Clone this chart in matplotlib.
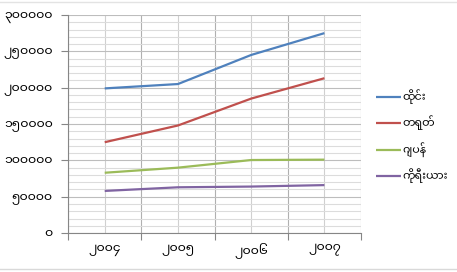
import numpy as np
import matplotlib
matplotlib.use('Agg')
import matplotlib.pyplot as plt
from matplotlib.ticker import MultipleLocator, FixedLocator, FuncFormatter

# data (visitor arrivals by year)
years = ['၂၀၀၄', '၂၀၀၅', '၂၀၀၆', '၂၀၀၇']
thailand = [199000, 205000, 245000, 275000]
china = [125000, 148000, 185000, 213000]
japan = [83000, 90000, 100500, 101000]
korea = [58000, 63000, 64000, 66000]
series_names = ['ထိုင်း', 'တရုတ်', 'ဂျပန်', 'ကိုရီးယား']
colors = ['#4F81BD', '#C0504D', '#9BBB59', '#8064A2']

MM_DIGITS = str.maketrans('0123456789', '၀၁၂၃၄၅၆၇၈၉')

plt.rcParams['font.family'] = ['Noto Sans Myanmar UI', 'Myanmar Sans Pro', 'DejaVu Sans']
plt.rcParams['font.size'] = 9

fig = plt.figure(figsize=(4.57, 2.72), dpi=100)
ax = fig.add_axes([0.149, 0.143, 0.641, 0.802])

x = np.arange(len(years))
for vals, name, c in zip([thailand, china, japan, korea], series_names, colors):
    ax.plot(x, vals, color=c, lw=1.6, label=name, solid_capstyle='butt')

# y axis
ax.set_ylim(0, 300000)
ax.yaxis.set_major_locator(MultipleLocator(50000))
ax.yaxis.set_minor_locator(MultipleLocator(10000))
ax.yaxis.set_major_formatter(FuncFormatter(lambda v, p: str(int(v)).translate(MM_DIGITS)))
ax.grid(which='major', axis='y', color='#bdbdbd', lw=0.8)
ax.grid(which='minor', axis='y', color='#dcdcdc', lw=0.8)

# x axis: category boundaries as major ticks, labels at centres
ax.set_xlim(-0.5, len(years) - 0.5)
ax.xaxis.set_major_locator(FixedLocator(np.arange(-0.5, len(years), 1.0)))
ax.xaxis.set_major_formatter(FuncFormatter(lambda v, p: ''))
ax.set_xticks(x, minor=True)
ax.set_xticklabels(years, minor=True)
ax.grid(which='major', axis='x', color='#b0b0b0', lw=0.8)
ax.grid(which='minor', axis='x', color='#d0d0d0', lw=0.8)
ax.set_axisbelow(True)

ax.tick_params(axis='x', which='major', length=5, color='#868686', direction='out')
ax.tick_params(axis='x', which='minor', length=0, pad=7, labelsize=9)
ax.tick_params(axis='y', which='major', length=5, color='#868686', pad=6)
ax.tick_params(axis='y', which='minor', length=0)

for side in ['top', 'right']:
    ax.spines[side].set_visible(False)
ax.spines['left'].set_color('#868686')
ax.spines['bottom'].set_color('#868686')

fig.legend(loc='upper left', bbox_to_anchor=(0.80, 0.71), frameon=False,
           handlelength=2.3, handletextpad=0.15, labelspacing=1.05, fontsize=8)

# faint chart border lines top and bottom
fig.add_artist(plt.Line2D([0, 1], [0.994, 0.994], color='#e3e3e3', lw=1, transform=fig.transFigure))
fig.add_artist(plt.Line2D([0, 1], [0.012, 0.012], color='#d9d9d9', lw=1, transform=fig.transFigure))

fig.savefig('out.png', dpi=100)
